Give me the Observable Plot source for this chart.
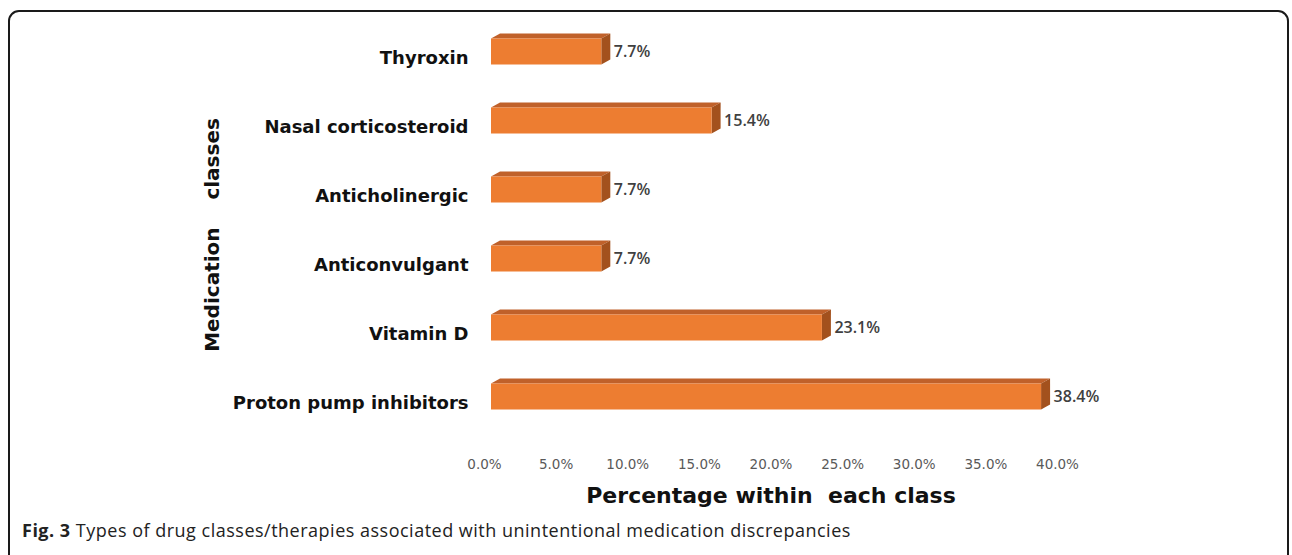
<!DOCTYPE html>
<html>
<head>
<meta charset="utf-8">
<script src="https://cdn.jsdelivr.net/npm/d3@7"></script>
<script src="https://cdn.jsdelivr.net/npm/@observablehq/plot@0.6"></script>
<style>
  html, body { margin: 0; padding: 0; background: #fff; width: 1292px; height: 555px; overflow: hidden; }
  #frame { position: absolute; left: 8px; top: 10px; width: 1281px; height: 560px; border: 2px solid #1a1a1a; border-radius: 11px; box-sizing: border-box; }
  #chart { position: absolute; left: 0; top: 0; }
  #caption { position: absolute; left: 22px; top: 518px; font-family: "Open Sans", sans-serif; font-size: 18px; letter-spacing: 0.5px; color: #222; white-space: nowrap; }
  #caption b { font-weight: 700; }
</style>
</head>
<body>
<div id="frame"></div>
<div id="chart"></div>
<div id="caption"><b>Fig. 3</b> Types of drug classes/therapies associated with unintentional medication discrepancies</div>
<script>
const categories = ["Thyroxin", "Nasal corticosteroid", "Anticholinergic", "Anticonvulgant", "Vitamin D", "Proton pump inhibitors"];
const values = [7.7, 15.4, 7.7, 7.7, 23.1, 38.4];
const valueLabels = ["7.7%", "15.4%", "7.7%", "7.7%", "23.1%", "38.4%"];
const xTicks = [0, 5, 10, 15, 20, 25, 30, 35, 40];
const xTickLabels = ["0.0%", "5.0%", "10.0%", "15.0%", "20.0%", "25.0%", "30.0%", "35.0%", "40.0%"];

const data = categories.map((c, i) => ({category: c, value: values[i], label: valueLabels[i]}));

const W = 1292, H = 505;
const INSET = 21.5;    // vertical inset of front face inside band
const DX = 9, DY = 5;  // 3D depth offsets

// custom mark: top and side faces of the 3D bars
function faces(index, scales) {
  const x = scales.x, y = scales.y;
  const g = d3.create("svg:g");
  const bw = typeof y.bandwidth === "function" ? y.bandwidth() : y.bandwidth;
  for (const d of data) {
    const x0 = x(0), x1 = x(d.value);
    const yt = y(d.category) + INSET, yb = y(d.category) + bw - INSET;
    g.append("polygon")
      .attr("points", [[x0, yt], [x0 + DX, yt - DY], [x1 + DX, yt - DY], [x1, yt]].map(p => p.join(",")).join(" "))
      .attr("fill", "#C0612A");
    g.append("polygon")
      .attr("points", [[x1, yt], [x1 + DX, yt - DY], [x1 + DX, yb - DY], [x1, yb]].map(p => p.join(",")).join(" "))
      .attr("fill", "#A3511D");
  }
  return g.node();
}

const plot = Plot.plot({
  width: W,
  height: H,
  marginLeft: 491,
  marginRight: 228,
  marginTop: 14,
  marginBottom: 72,
  style: {background: "transparent", overflow: "visible"},
  x: {domain: [0, 40], axis: null},
  y: {domain: categories, padding: 0, axis: null},
  marks: [
    Plot.axisX({
      ticks: xTicks,
      tickFormat: (d) => xTickLabels[xTicks.indexOf(d)],
      tickSize: 0,
      tickPadding: 26,
      dx: -7,
      label: null,
      fontSize: 13.5,
      fontFamily: "DejaVu Sans",
      fill: "#595959"
    }),
    Plot.axisY({
      tickSize: 0,
      tickPadding: 23,
      dy: 6,
      label: null,
      fontSize: 18,
      fontWeight: "bold",
      fontFamily: "DejaVu Sans",
      fill: "#111"
    }),
    faces,
    Plot.barX(data, {x: "value", y: "category", fill: "#ED7D31", insetTop: INSET, insetBottom: INSET}),
    Plot.text(data, {
      x: "value", y: "category", text: "label",
      textAnchor: "start", dx: 12, dy: 0,
      fontSize: 16, fontWeight: 600, fontFamily: "Open Sans", fill: "#404040"
    }),
    Plot.text(["Percentage within\u00a0 each class"], {
      frameAnchor: "bottom", dy: 62, dx: -7,
      fontSize: 22, fontWeight: "bold", fontFamily: "DejaVu Sans", fill: "#111",
      lineAnchor: "middle", textAnchor: "middle"
    }),
    Plot.text(["Medication\u00a0\u00a0\u00a0\u00a0classes"], {
      frameAnchor: "left", rotate: -90, dx: -279, dy: 11,
      fontSize: 20, fontWeight: "bold", fontFamily: "DejaVu Sans", fill: "#111",
      textAnchor: "middle", lineAnchor: "middle"
    })
  ]
});
document.getElementById("chart").appendChild(plot);
</script>
</body>
</html>
